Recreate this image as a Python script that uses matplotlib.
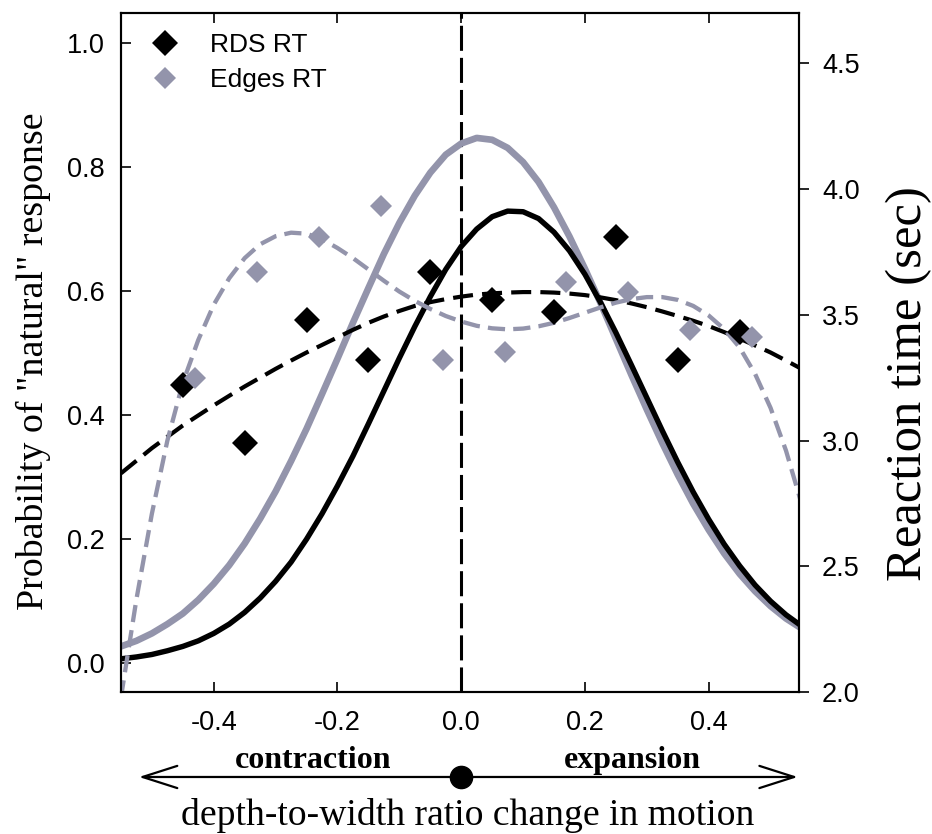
import numpy as np
import matplotlib
matplotlib.use("Agg")
import matplotlib.pyplot as plt
from matplotlib.lines import Line2D

# measured points (reaction time, sec)
rds_x = [-0.45, -0.35, -0.25, -0.15, -0.05, 0.05, 0.15, 0.25, 0.35, 0.45]
rds_rt = [3.22, 2.99, 3.48, 3.32, 3.67, 3.56, 3.51, 3.81, 3.32, 3.43]
edges_x = [-0.43, -0.33, -0.23, -0.13, -0.03, 0.07, 0.17, 0.27, 0.37, 0.47]
edges_rt = [3.25, 3.67, 3.81, 3.93, 3.32, 3.35, 3.63, 3.59, 3.44, 3.41]

curve_x = np.linspace(-0.55, 0.55, 45)
rds_prob = [0.007, 0.010, 0.014, 0.020, 0.027, 0.036, 0.048, 0.063, 0.082,
            0.105, 0.132, 0.163, 0.200, 0.241, 0.286, 0.334, 0.386, 0.439,
            0.492, 0.543, 0.591, 0.635, 0.672, 0.700, 0.720, 0.729, 0.728,
            0.717, 0.695, 0.665, 0.627, 0.582, 0.533, 0.481, 0.428, 0.375,
            0.324, 0.276, 0.232, 0.192, 0.157, 0.126, 0.100, 0.078, 0.060]
edges_prob = [0.027, 0.036, 0.048, 0.063, 0.080, 0.102, 0.128, 0.158, 0.193,
              0.233, 0.277, 0.326, 0.378, 0.434, 0.491, 0.549, 0.605, 0.660,
              0.710, 0.754, 0.791, 0.820, 0.838, 0.847, 0.844, 0.831, 0.808,
              0.776, 0.735, 0.688, 0.636, 0.581, 0.523, 0.465, 0.409, 0.355,
              0.304, 0.257, 0.215, 0.177, 0.144, 0.116, 0.092, 0.072, 0.056]
rds_rt_fit = [2.87, 2.92, 2.97, 3.015, 3.06, 3.10, 3.14, 3.178, 3.215, 3.25,
              3.285, 3.318, 3.35, 3.38, 3.41, 3.44, 3.468, 3.493, 3.515, 3.535,
              3.55, 3.562, 3.572, 3.58, 3.585, 3.588, 3.59, 3.59, 3.588, 3.584,
              3.578, 3.569, 3.558, 3.545, 3.53, 3.513, 3.495, 3.476, 3.455,
              3.431, 3.405, 3.378, 3.35, 3.318, 3.285]
edges_rt_fit = [1.98, 2.37, 2.71, 3.00, 3.23, 3.40, 3.54, 3.645, 3.725, 3.78,
                3.812, 3.826, 3.822, 3.80, 3.765, 3.725, 3.68, 3.635, 3.592,
                3.555, 3.523, 3.495, 3.473, 3.456, 3.446, 3.442, 3.445, 3.454,
                3.468, 3.487, 3.508, 3.529, 3.548, 3.562, 3.57, 3.57, 3.559,
                3.535, 3.497, 3.443, 3.37, 3.265, 3.13, 2.96, 2.75]

GRAY = "#9394ab"
SANS = "Liberation Sans"
SERIF = "Liberation Serif"

fig = plt.figure(figsize=(9.32, 8.34), dpi=100)
ax = fig.add_axes([0.1298, 0.1699, 0.7275, 0.8149])
ax2 = ax.twinx()

# probability fits (left axis)
ax.axvline(0, color="black", lw=2.2, dashes=(8.2, 2.3))
ax.plot(curve_x, edges_prob, color=GRAY, lw=4.8)
ax.plot(curve_x, rds_prob, color="black", lw=3.9)

# reaction time fits + points (right axis)
ax2.plot(curve_x, rds_rt_fit, color="black", lw=3.0, dashes=(4.8, 2.2))
ax2.plot(curve_x, edges_rt_fit, color=GRAY, lw=3.1, dashes=(4.0, 1.9))
ax2.plot(rds_x, rds_rt, "D", color="black", ms=13.5, mew=0)
ax2.plot(edges_x, edges_rt, "D", color=GRAY, ms=11.5, mew=0)

ax.set_xlim(-0.55, 0.546)
ax.set_ylim(-0.047, 1.049)
ax2.set_ylim(2.0, 4.7)
ax.set_xticks([-0.4, -0.2, 0.0, 0.2, 0.4])
ax.set_yticks([0.0, 0.2, 0.4, 0.6, 0.8, 1.0])
ax2.set_yticks([2.0, 2.5, 3.0, 3.5, 4.0, 4.5])
ax.xaxis.set_major_formatter(matplotlib.ticker.FormatStrFormatter("%.1f"))
ax.yaxis.set_major_formatter(matplotlib.ticker.FormatStrFormatter("%.1f"))
ax2.yaxis.set_major_formatter(matplotlib.ticker.FormatStrFormatter("%.1f"))

ax.tick_params(axis="x", direction="in", length=7.2, width=1.2, top=True,
               labelsize=19.5, pad=13)
ax.tick_params(axis="y", direction="in", length=7.2, width=1.2,
               labelsize=19.5, pad=11.5)
ax2.tick_params(axis="y", direction="out", length=7.2, width=1.2,
                labelsize=19.5, pad=9.4)
for a in (ax, ax2):
    for lab in a.get_xticklabels() + a.get_yticklabels():
        lab.set_family(SANS)
    for sp in a.spines.values():
        sp.set_linewidth(1.5)

# axis labels
ax.set_ylabel('Probability of "natural" response', fontsize=27.3, family=SERIF)
ax.yaxis.set_label_coords(-0.115, 0.4875)
ax.yaxis.label.set_va("baseline")
ax2.set_ylabel("Reaction time (sec)", fontsize=36.5, family=SERIF)
ax2.yaxis.set_label_coords(1.180, 0.455)
ax2.yaxis.label.set_va("baseline")
ax.set_xlabel("depth-to-width ratio change in motion", fontsize=27.1, family=SERIF)
ax.xaxis.set_label_coords(0.512, -0.1955)
ax.xaxis.label.set_va("baseline")

# contraction / expansion arrow under the x axis
tr = ax.get_xaxis_transform()
ax.annotate("", xy=(-0.521, -0.1246), xytext=(0.544, -0.1246),
            xycoords=tr, textcoords=tr, annotation_clip=False,
            arrowprops=dict(arrowstyle="<->,head_length=1.0,head_width=0.32",
                            lw=1.6, mutation_scale=25, shrinkA=0, shrinkB=0,
                            color="black"))
ax.plot([0], [-0.1246], "o", color="black", ms=16, transform=tr, clip_on=False)
ax.text(-0.239, -0.1114, "contraction", transform=tr, ha="center", va="baseline",
        fontsize=23, fontweight="bold", family=SERIF)
ax.text(0.276, -0.1114, "expansion", transform=tr, ha="center", va="baseline",
        fontsize=23, fontweight="bold", family=SERIF)

handles = [Line2D([], [], ls="none", marker="D", color="black", ms=13.5, mew=0),
           Line2D([], [], ls="none", marker="D", color=GRAY, ms=11.5, mew=0)]
ax2.legend(handles, ["RDS RT", "Edges RT"], loc="upper left",
           bbox_to_anchor=(0.0458, 0.970), frameon=False, borderpad=0,
           borderaxespad=0, handlelength=1.0, handletextpad=1.2,
           labelspacing=0.41, prop={"family": SANS, "size": 19})

fig.savefig("out.png", dpi=100)
